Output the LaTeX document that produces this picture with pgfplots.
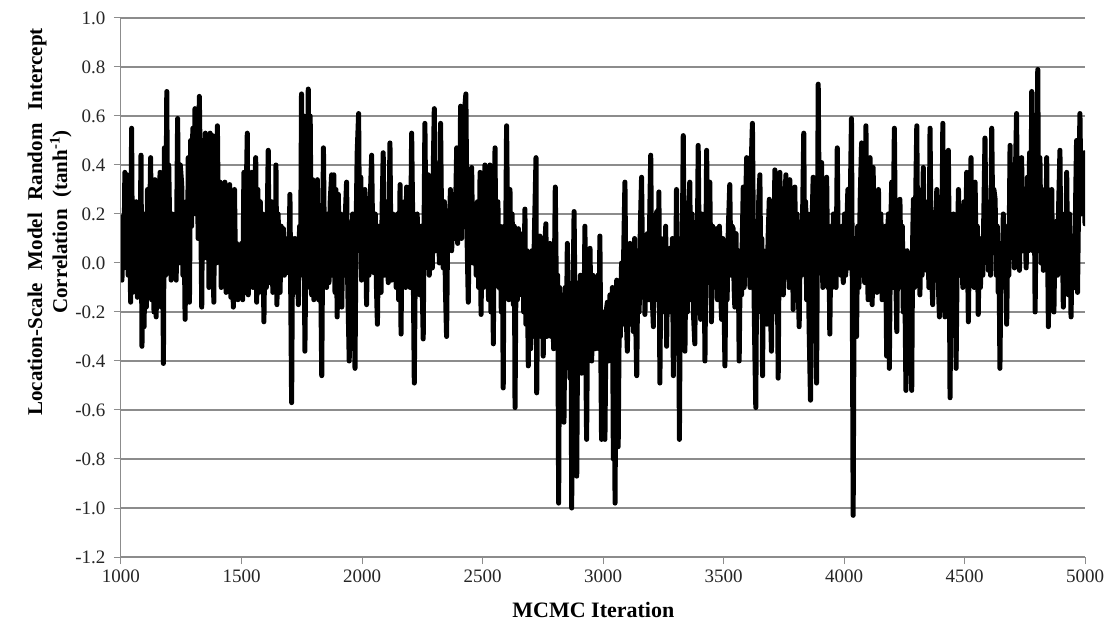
\documentclass[border=0pt]{standalone}
\usepackage{fontspec}
\setmainfont{Liberation Serif}
\usepackage{pgfplots}
\pgfplotsset{compat=1.18}

\begin{document}
\begin{tikzpicture}
\useasboundingbox (-121pt,-69pt) rectangle (992pt,557pt);
\begin{axis}[
  at={(0pt,0pt)}, anchor=south west,
  width=964pt, height=539pt, scale only axis,
  xmin=1000, xmax=5000, ymin=-1.2, ymax=1.0,
  xtick={1000,1500,2000,2500,3000,3500,4000,4500,5000},
  xticklabels={1000,1500,2000,2500,3000,3500,4000,4500,5000},
  ytick={-1.2,-1.0,-0.8,-0.6,-0.4,-0.2,0,0.2,0.4,0.6,0.8,1.0},
  yticklabels={-1.2,-1.0,-0.8,-0.6,-0.4,-0.2,0.0,0.2,0.4,0.6,0.8,1.0},
  axis x line*=bottom, axis y line*=left,
  axis line style={draw=black!45, line width=1pt, -},
  ymajorgrids, grid style={black!45, line width=1.1pt},
  tick align=outside, major tick length=7pt,
  tick style={black!45, line width=1pt},
  ticklabel style={font=\fontsize{19}{22}\selectfont, text=black!85},
  xticklabel style={yshift=-2pt},
  yticklabel style={xshift=-5pt},
  xlabel={MCMC Iteration},
  xlabel style={font=\fontsize{22}{24}\selectfont\bfseries,
    at={(axis description cs:0.49,-0.113)}, anchor=base},
  ylabel={Location-Scale\hspace{0.35em} Model\hspace{0.35em} Random\hspace{0.35em} Intercept\\Correlation\hspace{0.3em} (tanh\textsuperscript{-1})},
  ylabel style={font=\fontsize{21}{25}\selectfont\bfseries, align=center,
    at={(axis description cs:-0.074,0.6215)}, anchor=center, rotate=0},
]
% MCMC trace of the random-intercept correlation
\addplot[black, line width=5pt, line join=round, line cap=round] coordinates {
(1000,0.10)(1004,-0.07)(1008,0.19)(1012,-0.02)(1016,0.37)(1020,0.05)(1025,0.36)(1030,-0.05)(1035,0.20)(1040,-0.16)(1044,0.55)(1048,-0.12)(1053,0.15)(1058,-0.10)(1063,0.25)(1068,-0.14)(1073,0.18)(1078,-0.05)(1083,0.44)(1087,-0.34)(1092,0.12)(1096,-0.26)
(1100,0.20)(1105,-0.18)(1110,0.30)(1115,-0.10)(1123,0.43)(1127,-0.15)(1132,0.32)(1137,-0.20)(1141,0.34)(1146,-0.22)(1151,0.30)(1155,-0.12)(1162,0.37)(1167,-0.18)(1172,0.25)(1176,-0.41)(1180,0.47)(1185,-0.05)(1190,0.70)(1194,-0.02)(1198,0.40)
(1203,0.10)(1208,-0.07)(1213,0.20)(1218,-0.05)(1224,0.15)(1229,-0.07)(1235,0.59)(1240,0.00)(1246,0.40)(1252,0.32)(1257,-0.05)(1262,0.15)(1266,-0.23)(1271,0.25)(1275,-0.10)(1279,0.43)(1284,-0.16)(1289,0.50)(1293,0.15)(1298,0.55)(1302,0.25)(1307,0.63)
(1311,0.20)(1316,0.58)(1320,0.10)(1325,0.68)(1330,0.30)(1335,-0.18)(1340,0.50)(1345,0.02)(1350,0.53)(1355,0.05)(1360,0.52)(1365,-0.10)(1370,0.53)(1375,0.01)(1380,0.52)(1385,-0.16)(1390,0.45)(1395,0.00)(1400,0.56)(1405,0.05)
(1411,0.33)(1416,-0.10)(1421,0.30)(1426,-0.05)(1431,0.33)(1436,-0.12)(1441,0.28)(1446,-0.08)(1451,0.32)(1456,-0.14)(1461,0.25)(1466,-0.18)(1471,0.30)(1476,-0.10)(1480,0.08)(1485,-0.15)(1490,0.05)(1495,-0.12)(1500,0.08)(1505,-0.15)
(1510,0.37)(1515,-0.05)(1520,0.30)(1524,0.53)(1528,-0.13)(1533,0.35)(1538,-0.08)(1543,0.37)(1548,-0.10)(1553,0.25)(1559,0.43)(1563,-0.16)(1568,0.30)(1573,-0.12)(1578,0.25)(1583,-0.05)(1588,0.20)(1593,-0.24)(1598,0.15)(1603,-0.10)(1607,0.20)
(1611,0.46)(1615,-0.08)(1620,0.20)(1625,0.25)(1630,-0.12)(1635,0.15)(1640,-0.10)(1643,0.40)(1647,-0.17)(1652,0.20)(1656,0.00)(1660,-0.12)(1665,0.15)(1670,-0.05)(1674,0.14)(1678,-0.05)(1683,0.10)(1687,-0.04)(1692,0.08)(1696,-0.03)(1701,0.28)
(1708,-0.57)(1712,0.10)(1717,-0.10)(1722,0.10)(1727,-0.12)(1731,0.05)(1736,-0.17)(1741,0.15)(1745,-0.05)(1749,0.69)(1754,0.10)(1758,0.60)(1763,-0.36)(1768,0.10)(1772,-0.10)(1777,0.71)(1781,0.05)(1785,0.60)(1791,-0.13)(1796,0.34)
(1800,-0.15)(1805,0.30)(1810,-0.10)(1815,0.34)(1820,-0.15)(1826,0.20)(1833,-0.46)(1837,0.10)(1840,0.47)(1845,-0.05)(1849,0.15)(1853,-0.10)(1858,0.20)(1863,-0.08)(1868,0.25)(1874,0.36)(1878,-0.05)(1883,0.36)(1888,-0.12)(1892,0.30)(1897,-0.22)
(1902,0.28)(1906,-0.10)(1911,0.20)(1916,-0.18)(1921,0.15)(1926,-0.05)(1931,0.20)(1936,0.33)(1941,-0.10)(1947,-0.40)(1951,0.15)(1957,-0.05)(1961,0.20)(1966,-0.10)(1971,-0.43)(1975,0.10)(1980,0.45)(1986,0.61)(1990,0.05)(1995,0.35)(1998,-0.07)
(2003,0.20)(2008,-0.05)(2012,0.30)(2016,0.05)(2019,-0.17)(2024,0.20)(2029,-0.05)(2034,0.25)(2040,0.44)(2045,0.05)(2050,-0.04)(2055,0.20)(2060,-0.10)(2064,-0.25)(2069,0.15)(2075,0.10)(2079,-0.12)(2084,0.25)(2088,0.45)(2093,-0.05)(2100,0.00)
(2104,0.25)(2109,-0.08)(2116,0.49)(2120,0.05)(2123,-0.07)(2128,0.20)(2132,-0.05)(2137,0.14)(2142,-0.10)(2147,0.20)(2152,-0.15)(2158,0.32)(2162,-0.29)(2166,0.15)(2171,0.00)(2176,0.25)(2181,-0.10)(2185,0.31)(2190,-0.05)(2195,0.25)(2200,-0.10)
(2206,0.53)(2212,0.05)(2217,-0.49)(2222,0.10)(2229,0.20)(2234,-0.05)(2240,-0.13)(2245,0.15)(2250,-0.10)(2254,-0.31)(2258,0.20)(2261,0.57)(2266,0.05)(2271,0.30)(2275,0.36)(2279,-0.05)(2282,0.00)(2287,0.30)(2292,-0.02)(2296,0.40)(2300,0.63)
(2305,0.05)(2310,0.14)(2315,0.35)(2321,0.00)(2326,0.57)(2331,0.10)(2337,-0.02)(2342,0.25)(2346,-0.10)(2351,-0.30)(2356,0.20)(2362,0.14)(2367,0.30)(2372,0.05)(2379,0.25)(2384,0.10)(2388,0.20)(2393,0.47)(2397,0.08)(2402,0.35)
(2406,0.15)(2409,0.64)(2413,0.10)(2418,0.62)(2422,0.20)(2427,0.64)(2431,0.69)(2436,0.10)(2441,-0.16)(2446,0.25)(2450,0.05)(2455,0.39)(2460,0.00)(2464,0.20)(2469,0.14)(2474,-0.05)(2479,0.25)(2484,-0.10)(2490,0.37)(2494,-0.21)(2499,0.20)
(2504,-0.10)(2510,0.40)(2515,-0.05)(2520,0.30)(2525,-0.15)(2531,0.40)(2535,-0.20)(2540,0.25)(2545,-0.33)(2548,0.10)(2552,0.47)(2555,0.05)(2559,0.00)(2564,0.25)(2568,-0.10)(2573,0.15)(2578,-0.20)(2582,0.10)(2586,-0.51)(2590,0.15)(2595,-0.05)(2600,0.56)
(2605,0.05)(2609,-0.15)(2614,0.30)(2618,-0.05)(2623,0.20)(2628,-0.17)(2632,0.15)(2635,-0.59)(2640,0.10)(2645,-0.15)(2649,0.14)(2653,-0.10)(2658,0.10)(2662,-0.13)(2667,0.12)(2671,-0.20)(2676,0.22)(2680,-0.25)(2685,0.05)(2690,-0.42)(2695,0.00)(2700,-0.35)
(2705,0.05)(2710,-0.30)(2715,0.10)(2722,0.43)(2725,-0.53)(2730,0.05)(2734,-0.25)(2738,0.11)(2743,-0.30)(2748,0.00)(2752,-0.38)(2757,0.05)(2763,0.16)(2767,-0.30)(2771,0.05)(2776,-0.25)(2780,0.08)(2785,-0.30)(2790,0.00)(2795,-0.35)(2802,0.31)
(2808,-0.26)(2812,-0.05)(2816,-0.98)(2820,-0.10)(2824,-0.40)(2828,-0.13)(2833,-0.35)(2838,-0.65)(2843,-0.10)(2847,-0.40)(2852,0.08)(2858,-0.30)(2863,-0.47)(2867,-0.10)(2870,-1.00)(2875,-0.20)(2880,0.21)(2885,-0.30)(2891,-0.87)(2896,-0.10)(2902,-0.26)
(2906,-0.05)(2911,-0.45)(2915,-0.10)(2920,-0.35)(2925,0.15)(2928,-0.30)(2932,-0.72)(2937,-0.10)(2941,-0.35)(2946,0.06)(2950,-0.20)(2953,-0.40)(2958,-0.05)(2963,-0.13)(2968,-0.35)(2974,-0.30)(2979,-0.05)(2983,-0.35)(2987,0.11)(2990,-0.25)(2994,-0.72)
(2999,-0.20)(3004,-0.40)(3008,-0.72)(3013,-0.20)(3018,-0.16)(3023,-0.40)(3029,-0.13)(3034,-0.35)(3039,-0.10)(3043,-0.80)(3047,-0.30)(3050,-0.98)(3054,-0.25)(3057,-0.07)(3060,-0.30)(3063,-0.75)(3068,-0.15)(3072,-0.30)(3077,0.00)(3082,-0.25)(3086,0.05)(3091,0.33)(3096,-0.20)
(3101,-0.36)(3106,-0.05)(3112,0.08)(3116,-0.25)(3121,0.05)(3126,-0.28)(3131,0.10)(3135,-0.20)(3140,-0.46)(3145,0.05)(3150,-0.20)(3155,0.15)(3160,0.35)(3165,-0.10)(3170,0.10)(3174,-0.21)(3179,0.05)(3184,0.12)(3189,-0.15)(3194,0.20)(3198,0.44)
(3203,-0.10)(3209,-0.26)(3213,0.10)(3218,-0.15)(3223,0.21)(3228,-0.10)(3232,0.29)(3236,-0.49)(3241,0.10)(3246,-0.15)(3250,0.08)(3255,-0.20)(3260,0.15)(3264,-0.34)(3269,0.05)(3274,-0.20)(3278,0.06)(3283,-0.15)(3288,0.10)(3292,-0.46)(3297,0.10)
(3301,-0.10)(3305,0.30)(3310,-0.20)(3313,0.10)(3317,-0.72)(3322,0.10)(3327,-0.15)(3333,0.52)(3337,0.00)(3340,-0.36)(3345,0.15)(3350,-0.20)(3355,0.20)(3360,0.33)(3365,-0.15)(3370,0.20)(3375,-0.20)(3381,-0.33)(3385,0.10)(3390,-0.10)(3395,0.48)
(3400,-0.05)(3405,-0.23)(3410,0.20)(3414,-0.10)(3419,0.15)(3423,-0.40)(3427,0.05)(3430,0.46)(3435,0.00)(3439,0.20)(3443,0.33)(3447,0.00)(3450,-0.24)(3455,0.15)(3460,-0.10)(3466,0.12)(3471,0.14)(3475,-0.15)(3478,0.02)(3483,0.15)(3488,-0.10)(3492,-0.23)(3497,0.10)
(3502,-0.15)(3506,-0.42)(3511,0.05)(3515,-0.15)(3520,0.14)(3526,0.32)(3531,-0.05)(3536,0.15)(3540,0.14)(3544,-0.10)(3547,-0.18)(3552,0.12)(3556,-0.15)(3561,0.05)(3565,-0.40)(3570,0.05)(3575,-0.13)(3578,0.10)(3582,0.31)(3586,-0.10)(3591,0.20)(3596,0.43)
(3600,-0.05)(3605,0.30)(3610,-0.10)(3615,0.40)(3620,0.57)(3625,0.00)(3630,-0.36)(3634,-0.59)(3638,0.05)(3642,-0.20)(3646,0.25)(3651,0.36)(3655,-0.10)(3659,0.10)(3662,-0.46)(3666,0.05)(3671,-0.20)(3676,0.00)(3680,-0.25)(3685,0.10)(3690,0.26)(3694,-0.15)(3699,-0.36)
(3703,0.05)(3708,-0.20)(3713,0.38)(3717,-0.05)(3722,0.10)(3727,-0.47)(3731,0.10)(3734,0.37)(3739,-0.05)(3743,0.25)(3748,-0.13)(3753,0.20)(3759,0.36)(3763,-0.05)(3768,0.30)(3772,-0.10)(3775,0.34)(3780,0.00)(3785,0.25)(3789,-0.19)(3793,0.10)(3796,0.31)
(3800,-0.05)(3805,0.20)(3810,-0.10)(3814,-0.26)(3819,0.15)(3824,-0.05)(3829,0.25)(3833,0.53)(3837,0.00)(3841,0.25)(3845,-0.15)(3850,0.20)(3855,-0.25)(3861,-0.56)(3866,0.10)(3872,0.35)(3876,-0.10)(3881,0.20)(3886,-0.49)(3890,0.10)(3893,0.73)(3898,0.10)
(3902,0.30)(3907,0.41)(3912,-0.10)(3916,0.25)(3921,-0.05)(3925,0.20)(3928,0.35)(3933,-0.10)(3937,0.15)(3941,-0.29)(3946,0.10)(3951,-0.10)(3956,0.20)(3962,0.12)(3967,-0.10)(3972,0.47)(3976,0.05)(3983,0.12)(3987,-0.05)(3992,0.15)(3997,-0.08)
(4002,0.20)(4007,-0.05)(4011,0.12)(4016,0.30)(4021,-0.02)(4026,0.25)(4031,0.59)(4034,0.00)(4038,-1.03)(4042,-0.10)(4047,0.10)(4052,-0.30)(4057,0.15)(4062,-0.10)(4067,0.25)(4073,0.49)(4077,-0.05)(4082,0.30)(4086,-0.08)(4091,0.56)(4095,0.10)(4100,-0.15)
(4104,0.25)(4108,0.43)(4112,-0.05)(4117,-0.17)(4121,0.39)(4126,-0.10)(4131,0.20)(4137,-0.12)(4143,0.30)(4148,-0.10)(4153,0.20)(4158,-0.15)(4163,0.10)(4167,-0.15)(4172,0.15)(4177,-0.38)(4181,0.05)(4184,0.20)(4188,-0.43)(4193,0.10)(4198,0.33)
(4202,-0.10)(4205,0.20)(4209,0.55)(4214,0.00)(4219,-0.28)(4224,0.15)(4228,-0.10)(4232,0.26)(4237,-0.05)(4242,0.15)(4246,-0.20)(4251,0.05)(4257,-0.52)(4262,0.05)(4266,-0.20)(4271,0.04)(4276,-0.20)(4281,-0.52)(4285,0.10)(4288,0.26)(4293,-0.10)(4298,0.30)
(4302,0.56)(4306,0.05)(4310,0.30)(4315,-0.13)(4320,0.20)(4324,-0.05)(4329,0.39)(4334,0.00)(4338,0.25)(4343,-0.03)(4348,0.25)(4352,-0.10)(4357,0.55)(4362,0.00)(4368,-0.17)(4372,0.20)(4376,-0.05)(4381,0.15)(4385,0.30)(4390,-0.05)(4396,-0.22)
(4400,0.10)(4405,-0.05)(4410,0.57)(4414,0.00)(4419,-0.22)(4424,0.25)(4428,-0.05)(4433,0.46)(4437,0.00)(4440,-0.55)(4445,0.10)(4449,-0.10)(4454,0.20)(4458,-0.05)(4461,0.15)(4465,-0.43)(4470,0.05)(4475,0.30)(4480,-0.05)(4484,0.20)(4488,0.08)(4493,-0.10)(4498,0.25)
(4504,-0.05)(4509,0.37)(4513,0.00)(4516,-0.24)(4521,0.15)(4527,0.43)(4531,-0.05)(4536,0.20)(4540,-0.10)(4544,0.33)(4549,-0.05)(4553,0.15)(4557,-0.21)(4562,0.10)(4566,-0.10)(4571,0.06)(4576,-0.05)(4581,0.25)(4585,0.51)(4590,0.05)(4594,0.20)(4599,-0.03)
(4604,0.25)(4608,-0.05)(4613,0.55)(4618,0.10)(4622,0.30)(4627,0.26)(4632,-0.05)(4636,0.15)(4640,-0.12)(4643,0.05)(4647,-0.43)(4652,0.05)(4656,-0.10)(4661,0.20)(4666,-0.05)(4670,0.10)(4675,-0.25)(4680,0.15)(4684,-0.05)(4689,0.48)(4694,0.05)(4698,0.30)
(4703,0.20)(4707,-0.02)(4712,0.40)(4716,0.61)(4721,0.05)(4725,0.30)(4728,-0.03)(4733,0.25)(4737,0.43)(4742,0.05)(4746,0.30)(4751,0.14)(4756,-0.02)(4761,0.35)(4766,0.05)(4770,0.45)(4775,0.10)(4779,0.70)(4784,0.05)(4789,0.40)(4793,-0.20)(4798,0.30)
(4804,0.79)(4808,0.05)(4813,0.43)(4818,0.00)(4822,0.30)(4827,-0.03)(4832,0.25)(4837,0.00)(4841,0.43)(4845,0.05)(4848,-0.26)(4853,0.15)(4857,-0.05)(4862,0.30)(4866,-0.10)(4871,-0.20)(4876,0.15)(4882,0.17)(4886,-0.05)(4891,0.25)(4896,0.46)
(4900,0.00)(4905,0.20)(4910,-0.18)(4915,0.15)(4920,-0.05)(4924,0.37)(4928,0.00)(4931,-0.13)(4936,0.20)(4942,-0.22)(4947,0.05)(4952,0.10)(4957,-0.10)(4961,0.25)(4965,0.50)(4969,-0.12)(4974,0.30)(4979,0.61)(4984,0.20)(4988,0.45)(4993,0.30)(4997,0.45)(5000,0.16)
};
\end{axis}
\end{tikzpicture}
\end{document}
